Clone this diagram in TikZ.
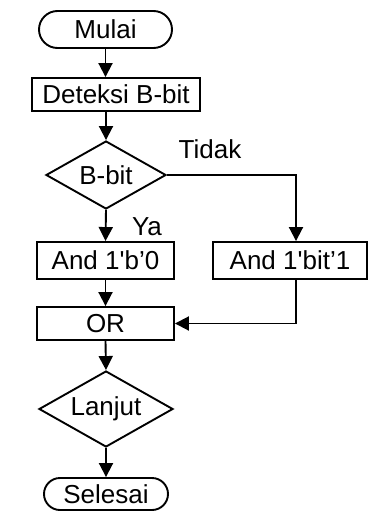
\documentclass[tikz,border=0pt]{standalone}
\usepackage{fontspec}
\setmainfont{Liberation Sans}
\usetikzlibrary{shapes.geometric,shapes.misc,arrows.meta}
\begin{document}
\begin{tikzpicture}[x=1pt,y=-1pt,
  font=\fontsize{26}{31}\selectfont,
  every node/.style={inner sep=0pt},
  box/.style={draw,line width=1.9pt,rectangle},
  term/.style={draw,line width=1.9pt,rounded rectangle},
  decide/.style={draw,line width=1.9pt,diamond,aspect=1.76},
  flow/.style={line width=1.9pt,-{Triangle[length=14pt,width=14pt]}}]
\useasboundingbox (0,0) rectangle (369,511);

% process steps
\node[term,minimum width=133pt,minimum height=37pt] (start) at (105.5,29.5) {Mulai};
\node[box,minimum width=168pt,minimum height=33pt] (detect) at (116,94.5) {Deteksi B-bit};
\node[decide,minimum width=120pt,minimum height=68pt] (bbit) at (106,175) {B-bit};
\node[box,minimum width=137pt,minimum height=37pt] (andzero) at (105.5,260.5) {And 1\textquotesingle b’0};
\node[box,minimum width=154pt,minimum height=37pt] (andone) at (290,260.5) {And 1\textquotesingle bit’1};
\node[box,minimum width=137pt,minimum height=33pt] (orbox) at (105.5,323.5) {OR};
\node[decide,minimum width=134pt,minimum height=76pt] (next) at (106,409) {Lanjut};
\node[term,minimum width=124pt,minimum height=32pt] (stop) at (106,494) {Selesai};

% branch labels
\node (no) at (210,149) {Tidak};
\node (yes) at (147,227) {Ya};

% connectors
\draw[flow] (start.south) -- (start.south |- detect.north);
\draw[flow] (bbit.north |- detect.south) -- (bbit.north);
\draw[flow] (bbit.south) -- (andzero.north);
\draw[flow] (bbit.east) -| ([xshift=6pt]andone.north);
\draw[flow] (andzero.south) -- (orbox.north);
\draw[flow] ([xshift=6pt]andone.south) |- (orbox.east);
\draw[flow] (orbox.south) -- (next.north);
\draw[flow] (next.south) -- (stop.north);
\end{tikzpicture}
\end{document}
